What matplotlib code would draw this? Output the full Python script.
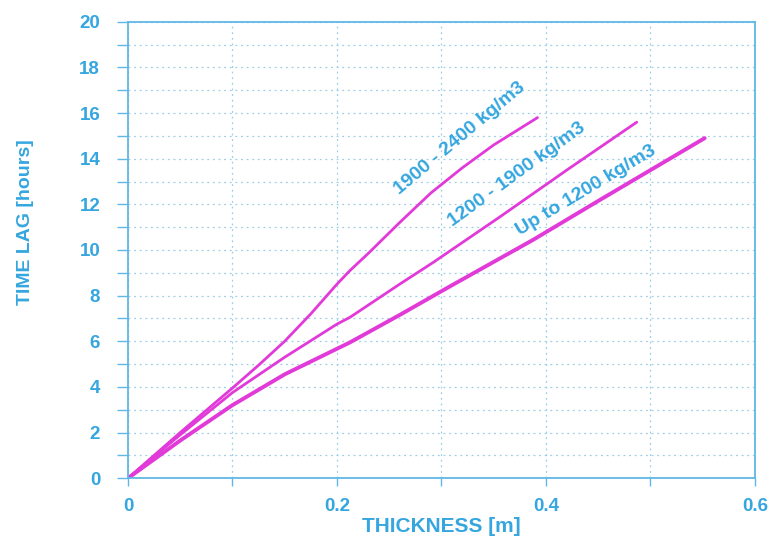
import numpy as np
import matplotlib.pyplot as plt
from matplotlib.ticker import MultipleLocator

# thickness [m] vs time lag [hours]
x_heavy = [0.0, 0.05, 0.10, 0.125, 0.15, 0.175, 0.20, 0.2125, 0.23, 0.26, 0.29, 0.32, 0.35, 0.392]
y_heavy = [0.0, 2.0, 3.95, 4.95, 6.0, 7.2, 8.5, 9.1, 9.85, 11.2, 12.5, 13.6, 14.6, 15.8]

x_mid = [0.0, 0.05, 0.10, 0.15, 0.20, 0.2125, 0.26, 0.292, 0.356, 0.42, 0.487]
y_mid = [0.0, 1.9, 3.75, 5.3, 6.75, 7.05, 8.5, 9.45, 11.45, 13.5, 15.6]

x_light = [0.0, 0.05, 0.10, 0.15, 0.2125, 0.26, 0.308, 0.388, 0.452, 0.552]
y_light = [0.0, 1.65, 3.2, 4.55, 5.95, 7.15, 8.4, 10.45, 12.2, 14.9]

labels = ['1900 - 2400 kg/m3', '1200 - 1900 kg/m3', 'Up to 1200 kg/m3']
label_pos = [(0.318, 14.9, 40), (0.372, 13.3, 36), (0.439, 12.6, 31)]

blue = '#35a6df'
spine_blue = '#5fb7e6'
grid_blue = '#9ccfe6'
magenta = '#e23ad9'

plt.rcParams['font.family'] = ['Liberation Sans', 'DejaVu Sans']

fig = plt.figure(figsize=(7.71, 5.44), dpi=100)
ax = fig.add_axes([0.166, 0.121, 0.813, 0.839])

ax.plot(x_heavy, y_heavy, color=magenta, lw=2.0, solid_joinstyle='round', solid_capstyle='round')
ax.plot(x_mid, y_mid, color=magenta, lw=2.0, solid_joinstyle='round', solid_capstyle='round')
ax.plot(x_light, y_light, color=magenta, lw=2.8, solid_joinstyle='round', solid_capstyle='round')

for text, (tx, ty, rot) in zip(labels, label_pos):
    ax.text(tx, ty, text, rotation=rot, rotation_mode='anchor',
            ha='center', va='center', color=blue, fontsize=14,
            fontweight='bold')

ax.set_xlim(0, 0.6)
ax.set_ylim(0, 20)
ax.xaxis.set_major_locator(MultipleLocator(0.2))
ax.xaxis.set_minor_locator(MultipleLocator(0.1))
ax.yaxis.set_major_locator(MultipleLocator(2))
ax.yaxis.set_minor_locator(MultipleLocator(1))
ax.xaxis.set_major_formatter(lambda v, p: '0' if v == 0 else f'{v:.1f}')

ax.grid(which='both', color=grid_blue, ls=(0, (1.5, 3)), lw=0.9)
ax.set_axisbelow(True)

for s in ax.spines.values():
    s.set_color(spine_blue)
    s.set_linewidth(1.3)

ax.tick_params(which='both', colors=spine_blue, direction='out', width=1.0)
ax.tick_params(axis='y', which='both', length=8, pad=12)
ax.tick_params(axis='x', which='both', length=6, pad=8)
for lab in ax.get_xticklabels() + ax.get_yticklabels():
    lab.set_color(blue)
    lab.set_fontweight('bold')
    lab.set_fontsize(13.5)

ax.set_xlabel('THICKNESS [m]', color=blue, fontweight='bold', fontsize=15)
ax.set_ylabel('TIME LAG [hours]', color=blue, fontweight='bold', fontsize=14)
ax.xaxis.set_label_coords(0.5, -0.085)
ax.yaxis.set_label_coords(-0.15, 0.56)

fig.savefig('out.png', dpi=100, facecolor='white')
